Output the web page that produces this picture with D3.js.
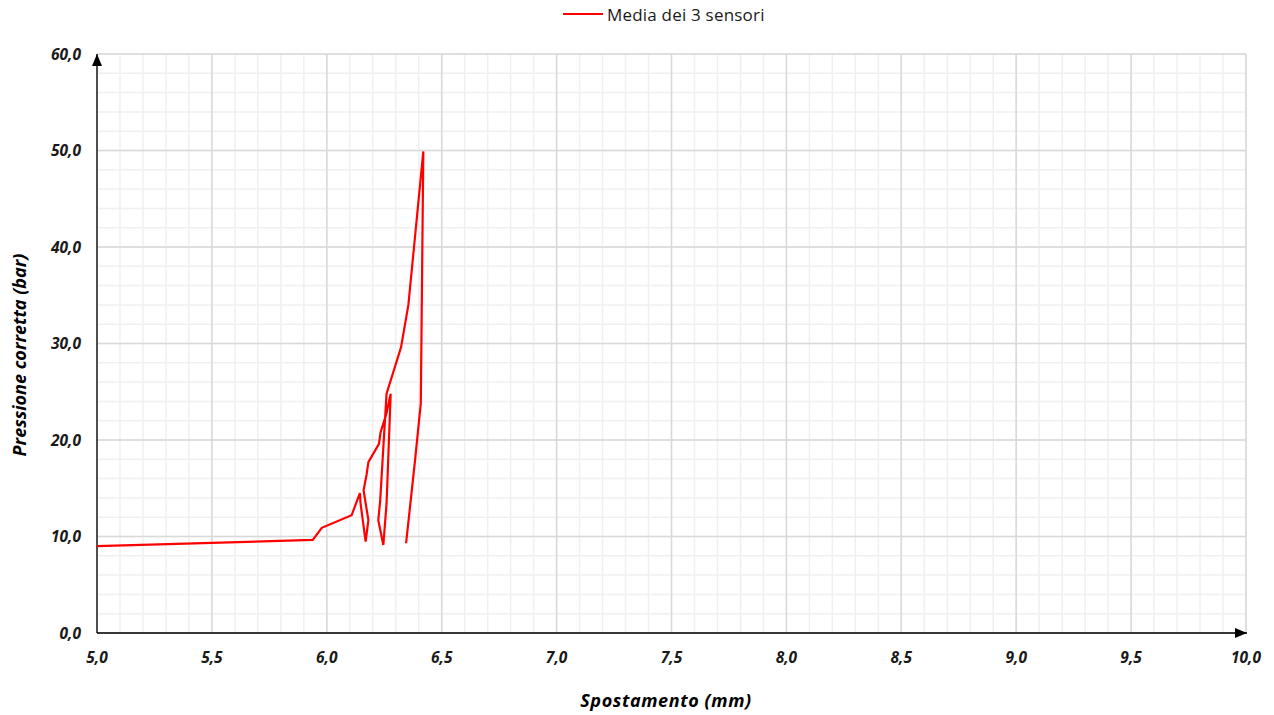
<!DOCTYPE html>
<html>
<head>
<meta charset="utf-8">
<script src="https://cdn.jsdelivr.net/npm/d3@7"></script>
<style>
  html, body { margin: 0; padding: 0; background: #ffffff; }
  svg { display: block; font-family: "Open Sans", "Noto Sans", sans-serif; }
</style>
</head>
<body>
<svg id="chart" width="1274" height="715"></svg>
<script>
// Displacement (mm) and corrected pressure (bar), average of the three sensors
const spostamento = [5.000, 5.939, 5.978, 6.108, 6.144, 6.147, 6.169, 6.181, 6.160, 6.173, 6.181, 6.227, 6.234, 6.258, 6.278, 6.260, 6.246, 6.224, 6.232, 6.260, 6.323, 6.355, 6.420, 6.409, 6.384, 6.345];
const pressione   = [9.0,   9.64,  10.9,  12.2,  14.5,  13.4,  9.46,  11.7,  14.8,  16.4,  17.7,  19.6,  20.8,  22.6,  24.8,  13.4,  9.12,  11.7,  13.6,  24.8,  29.6,  34.0,  49.9,  23.8,  17.9,  9.3];

const xTicks = [5.0, 5.5, 6.0, 6.5, 7.0, 7.5, 8.0, 8.5, 9.0, 9.5, 10.0];
const yTicks = [0, 10, 20, 30, 40, 50, 60];
const seriesName = "Media dei 3 sensori";
const xTitle = "Spostamento (mm)";
const yTitle = "Pressione corretta (bar)";

const svg = d3.select("#chart");
const plotLeft = 97, plotRight = 1246, plotTop = 54, plotBottom = 633;

const x = d3.scaleLinear().domain([5, 10]).range([plotLeft, plotRight]);
const y = d3.scaleLinear().domain([0, 60]).range([plotBottom, plotTop]);
const fmt = v => d3.format(".1f")(v).replace(".", ",");

// minor grid
const g = svg.append("g");
g.selectAll(".vminor").data(d3.range(50, 101).map(v => v / 10)).join("line")
  .attr("x1", d => x(d)).attr("x2", d => x(d)).attr("y1", plotTop).attr("y2", plotBottom)
  .attr("stroke", "#f0f0f0").attr("stroke-width", 1.5);
g.selectAll(".hminor").data(d3.range(0, 61, 2)).join("line")
  .attr("x1", plotLeft).attr("x2", plotRight).attr("y1", d => y(d)).attr("y2", d => y(d))
  .attr("stroke", "#f0f0f0").attr("stroke-width", 1.5);
// major grid
g.selectAll(".vmajor").data(xTicks).join("line")
  .attr("x1", d => x(d)).attr("x2", d => x(d)).attr("y1", plotTop).attr("y2", plotBottom)
  .attr("stroke", "#d9d9d9").attr("stroke-width", 1.5);
g.selectAll(".hmajor").data(yTicks).join("line")
  .attr("x1", plotLeft).attr("x2", plotRight).attr("y1", d => y(d)).attr("y2", d => y(d))
  .attr("stroke", "#d9d9d9").attr("stroke-width", 1.5);

// arrowheads for the axes (tip sits at the line end)
const defs = svg.append("defs");
defs.append("marker").attr("id", "arrow").attr("viewBox", "0 0 12 10")
  .attr("refX", 12).attr("refY", 5).attr("markerWidth", 12).attr("markerHeight", 10)
  .attr("markerUnits", "userSpaceOnUse").attr("orient", "auto")
  .append("path").attr("d", "M0,0 L12,5 L0,10 Z").attr("fill", "#000");

svg.append("line").attr("x1", plotLeft).attr("x2", plotRight + 1).attr("y1", plotBottom).attr("y2", plotBottom)
  .attr("stroke", "#000").attr("stroke-width", 1.3).attr("marker-end", "url(#arrow)");
svg.append("line").attr("x1", plotLeft).attr("x2", plotLeft).attr("y1", plotBottom).attr("y2", plotTop)
  .attr("stroke", "#000").attr("stroke-width", 1.3).attr("marker-end", "url(#arrow)");

// tick labels
svg.selectAll(".xl").data(xTicks).join("text")
  .attr("x", d => x(d)).attr("y", plotBottom + 30).attr("text-anchor", "middle")
  .attr("font-size", 15.5).attr("font-weight", "bold").attr("font-style", "italic").attr("fill", "#1a1a1a")
  .text(fmt);
svg.selectAll(".yl").data(yTicks).join("text")
  .attr("x", plotLeft - 16).attr("y", d => y(d) + 5.5).attr("text-anchor", "end")
  .attr("font-size", 15.5).attr("font-weight", "bold").attr("font-style", "italic").attr("fill", "#1a1a1a")
  .text(fmt);

// axis titles
svg.append("text").attr("x", 666).attr("y", 707).attr("text-anchor", "middle")
  .attr("font-size", 18).attr("letter-spacing", 0.6)
  .attr("font-weight", "bold").attr("font-style", "italic").attr("fill", "#000")
  .text(xTitle);
svg.append("text").attr("transform", "translate(26, 355) rotate(-90)")
  .attr("text-anchor", "middle")
  .attr("font-size", 18).attr("font-weight", "bold").attr("font-style", "italic").attr("fill", "#000")
  .text(yTitle);

// data line
const data = spostamento.map((v, i) => [v, pressione[i]]);
svg.append("path").datum(data)
  .attr("d", d3.line().x(d => x(d[0])).y(d => y(d[1])))
  .attr("fill", "none").attr("stroke", "#ff0000").attr("stroke-width", 2.2)
  .attr("stroke-linejoin", "miter");

// legend
const lg = svg.append("g");
lg.append("line").attr("x1", 563).attr("x2", 603).attr("y1", 14).attr("y2", 14)
  .attr("stroke", "#ff0000").attr("stroke-width", 2.2);
lg.append("text").attr("x", 607).attr("y", 20.5).attr("font-size", 17).attr("letter-spacing", 0.2)
  .attr("fill", "#1a1a1a")
  .text(seriesName);
</script>
</body>
</html>
